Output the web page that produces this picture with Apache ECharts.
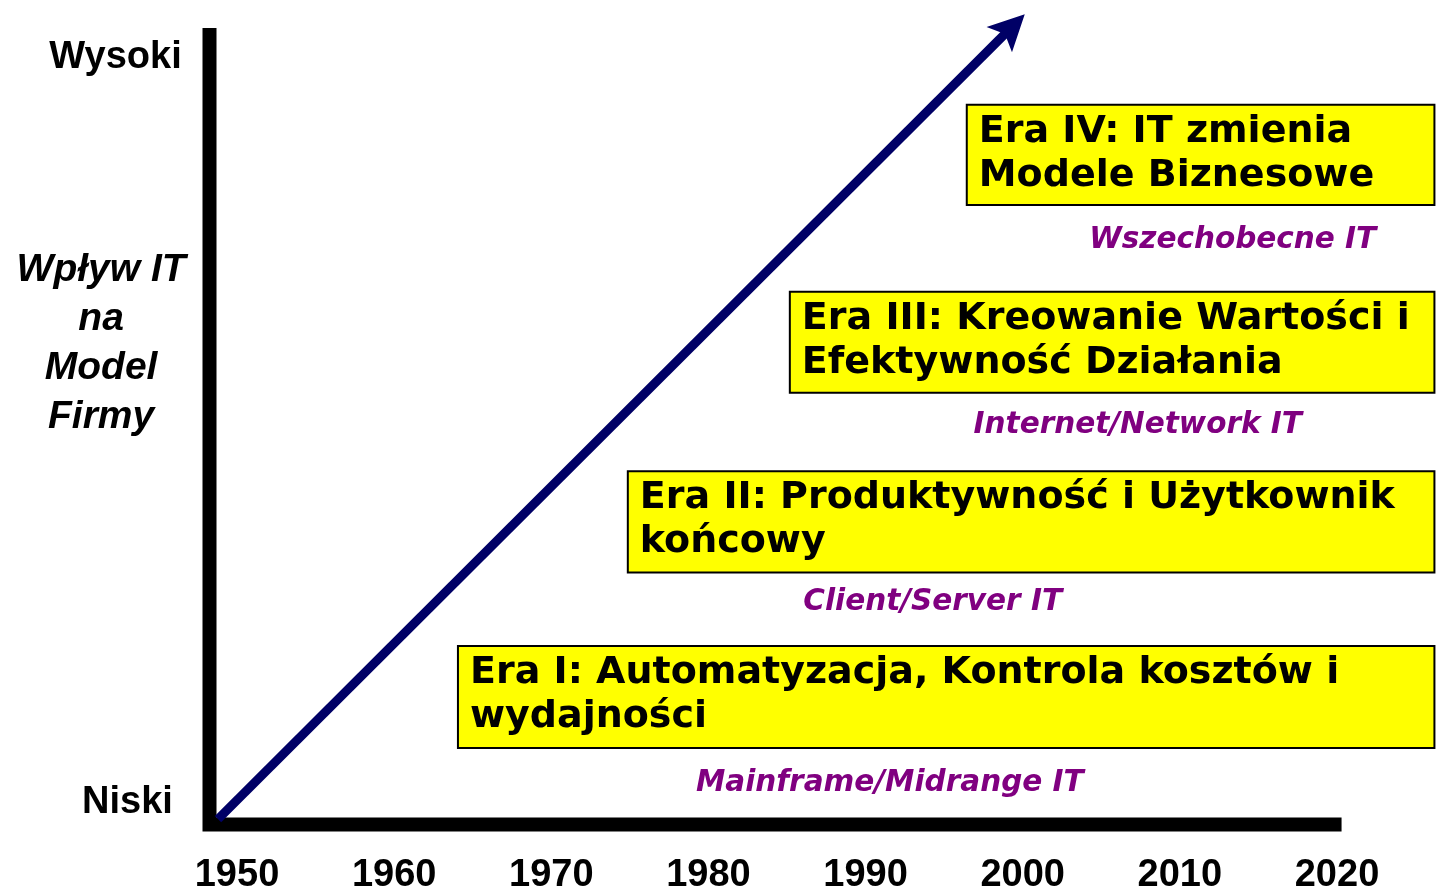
<!DOCTYPE html>
<html>
<head>
<meta charset="UTF-8">
<title>Ery IT</title>
<script type="text/javascript" src="https://cdn.jsdelivr.net/npm/echarts@6/dist/echarts.min.js"></script>
<style>
  html, body { margin: 0; padding: 0; background: #fff; }
</style>
</head>
<body>

<div id="box" style="width:1437px;height:890px;"></div>

<script type="text/javascript">

// os X - lata
var years = [1950, 1960, 1970, 1980, 1990, 2000, 2010, 2020];

// ery (prostokaty)
var eraTitles = [
  'Era I: Automatyzacja, Kontrola kosztów i\nwydajności',
  'Era II: Produktywność i Użytkownik\nkońcowy',
  'Era III: Kreowanie Wartości i\nEfektywność Działania',
  'Era IV: IT zmienia\nModele Biznesowe'
];
var eraStart = [1964.06, 1974.87, 1985.18, 1996.44];
var eraEnd = [2026.2, 2026.2, 2026.2, 2026.2];
var eraTop = [22.0, 43.6, 65.8, 88.9];
var eraBottom = [9.4, 31.1, 53.3, 76.5];

// technologie (fioletowe podpisy)
var techLabels = ['Mainframe/Midrange IT', 'Client/Server IT', 'Internet/Network IT', 'Wszechobecne IT'];
var techX = [1991.54, 1994.27, 2007.32, 2013.36];
var techY = [5.0, 27.4, 49.3, 72.1];

// opisy osi Y
var yLabels = ['Wysoki', 'Niski'];
var yLabelX = [1942.27, 1943.03];
var yLabelY = [94.7, 2.6];
var yTitle = 'Wpływ IT\nna\nModel\nFirmy';
var yTitlePos = [1941.35, 59.35];

// strzalka i osie
var arrowFrom = [1948.79, 0.6];
var arrowTo = [2000.13, 100.1];
var axisPath = [[1948.25, 98.4], [1948.25, -0.06], [2020.29, -0.06]];

var mychart = echarts.init(document.getElementById('box'));

var option = {
  animation: false,
  backgroundColor: '#fff',
  grid: {
    left: 237,
    right: 100,
    top: 15,
    bottom: 66,
    containLabel: false,
    outerBoundsMode: 'none'
  },
  xAxis: {
    type: 'value',
    min: 1950,
    max: 2020,
    interval: 10,
    axisLine: { show: false },
    axisTick: { show: false },
    splitLine: { show: false },
    axisLabel: {
      showMinLabel: true,
      showMaxLabel: true,
      margin: 33,
      color: '#000',
      fontSize: 38,
      fontWeight: 'bold',
      fontFamily: 'Liberation Sans',
      formatter: function (v) { return years.indexOf(v) >= 0 ? String(v) : ''; }
    }
  },
  yAxis: {
    type: 'value',
    min: 0,
    max: 100,
    show: false
  },
  series: [
    {
      // osie wykresu
      type: 'custom',
      clip: false,
      silent: true,
      data: [0],
      renderItem: function (params, api) {
        var pts = axisPath.map(function (p) { return api.coord(p); });
        return {
          type: 'polyline',
          shape: { points: pts },
          style: { fill: null, stroke: '#000', lineWidth: 14, lineJoin: 'miter', lineCap: 'butt' }
        };
      },
      z: 2
    },
    {
      // strzalka
      type: 'custom',
      clip: false,
      silent: true,
      data: [0],
      renderItem: function (params, api) {
        var a = api.coord(arrowFrom);
        var b = api.coord(arrowTo);
        var dx = b[0] - a[0], dy = b[1] - a[1];
        var len = Math.sqrt(dx * dx + dy * dy);
        var ux = dx / len, uy = dy / len;
        var nx = -uy, ny = ux;
        var L = 36, W = 18, notch = 28;
        var base = [b[0] - ux * L, b[1] - uy * L];
        var nt = [b[0] - ux * notch, b[1] - uy * notch];
        return {
          type: 'group',
          children: [
            {
              type: 'line',
              shape: { x1: a[0], y1: a[1], x2: nt[0] + ux * 2, y2: nt[1] + uy * 2 },
              style: { stroke: '#000066', lineWidth: 9, lineCap: 'butt' }
            },
            {
              type: 'polygon',
              shape: { points: [b, [base[0] + nx * W, base[1] + ny * W], nt, [base[0] - nx * W, base[1] - ny * W]] },
              style: { fill: '#000066' }
            }
          ]
        };
      },
      z: 3
    },
    {
      // prostokaty er
      type: 'custom',
      clip: false,
      silent: true,
      data: eraTitles.map(function (t, i) {
        return [eraStart[i], eraTop[i], eraEnd[i], eraBottom[i]];
      }),
      renderItem: function (params, api) {
        var i = params.dataIndex;
        var tl = api.coord([api.value(0), api.value(1)]);
        var br = api.coord([api.value(2), api.value(3)]);
        return {
          type: 'group',
          children: [
            {
              type: 'rect',
              shape: { x: tl[0], y: tl[1], width: br[0] - tl[0], height: br[1] - tl[1] },
              style: { fill: '#ffff00', stroke: '#000', lineWidth: 2 }
            },
            {
              type: 'text',
              x: tl[0] + 12,
              y: tl[1] + 5,
              style: {
                text: eraTitles[i],
                fill: '#000',
                font: 'bold 38px "DejaVu Sans"',
                lineHeight: 44,
                align: 'left',
                verticalAlign: 'top'
              }
            }
          ]
        };
      },
      z: 4
    },
    {
      // fioletowe podpisy
      type: 'scatter',
      clip: false,
      silent: true,
      symbolSize: 0,
      itemStyle: { opacity: 1 },
      data: techLabels.map(function (t, i) {
        return { name: t, value: [techX[i], techY[i]] };
      }),
      label: {
        show: true,
        position: 'inside',
        formatter: '{b}',
        color: '#800080',
        opacity: 1,
        fontSize: 29.5,
        fontStyle: 'italic',
        fontWeight: 'bold',
        fontFamily: 'DejaVu Sans'
      },
      z: 5
    },
    {
      // opisy osi Y
      type: 'scatter',
      clip: false,
      silent: true,
      symbolSize: 0,
      itemStyle: { opacity: 1 },
      data: yLabels.map(function (t, i) {
        return { name: t, value: [yLabelX[i], yLabelY[i]] };
      }).concat([{
        name: yTitle,
        value: yTitlePos,
        label: { fontStyle: 'italic', lineHeight: 49, fontSize: 39 }
      }]),
      label: {
        show: true,
        position: 'inside',
        formatter: '{b}',
        color: '#000',
        opacity: 1,
        fontSize: 38,
        fontWeight: 'bold',
        fontFamily: 'Liberation Sans',
        align: 'center'
      },
      z: 5
    }
  ]
};

mychart.setOption(option);
</script>
</body>
</html>
